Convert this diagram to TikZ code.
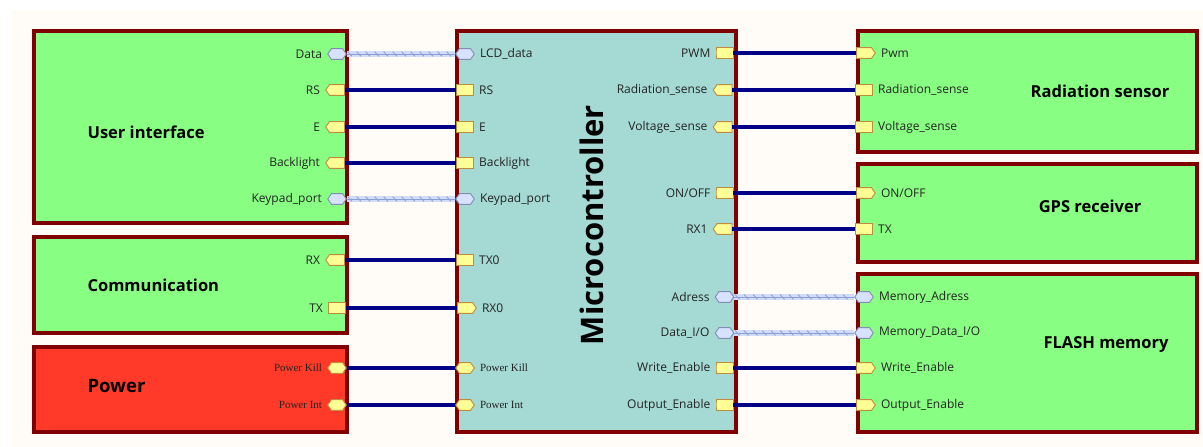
\documentclass[tikz,border=0pt]{standalone}
\usepackage{fontspec}
\setmainfont{Open Sans}
\newfontfamily\pinserif{Liberation Serif}
\usetikzlibrary{positioning,shapes.symbols,decorations.markings}
\definecolor{boxred}{RGB}{128,0,0}
\definecolor{boxgreen}{RGB}{136,255,130}
\definecolor{boxpower}{RGB}{255,58,40}
\definecolor{boxmcu}{RGB}{164,217,212}
\definecolor{paper}{RGB}{255,251,246}
\definecolor{wirenavy}{RGB}{0,0,135}
\definecolor{busband}{RGB}{208,220,248}
\definecolor{bustick}{RGB}{140,158,210}
\definecolor{pinfill}{RGB}{255,255,150}
\definecolor{pinedge}{RGB}{190,140,60}
\definecolor{busfill}{RGB}{214,226,255}
\definecolor{busedge}{RGB}{130,140,180}
\definecolor{labelgrey}{RGB}{35,35,35}

\begin{document}
\begin{tikzpicture}[x=1pt,y=-1pt,node distance=4pt]
\tikzstyle{block}=[draw=boxred,line width=3.5pt,anchor=north west,inner sep=0pt]
\tikzstyle{title}=[font=\bfseries\fontsize{16.5}{19}\selectfont,text=black]
\tikzstyle{pin}=[signal,signal from=nowhere,signal pointer angle=110,draw=pinedge,fill=pinfill,line width=0.9pt,inner xsep=7.5pt,inner ysep=5.4pt]
\tikzstyle{pinwest}=[pin,signal to=west]
\tikzstyle{pineast}=[pin,signal to=east]
\tikzstyle{pinflat}=[pin,signal to=nowhere,inner xsep=8.5pt]
\tikzstyle{pinhex}=[pin,signal to=east and west,inner xsep=5.5pt]
\tikzstyle{bushex}=[pinhex,draw=busedge,fill=busfill]
\tikzstyle{plabel}=[inner sep=1pt,text=labelgrey,font=\fontsize{12}{14}\selectfont]
\tikzstyle{slabel}=[inner sep=1pt,text=labelgrey,font=\pinserif\fontsize{11}{13}\selectfont]
\tikzstyle{wire}=[draw=wirenavy,line width=3.8pt]
\tikzstyle{bus}=[draw=busband,line width=6.5pt,postaction={draw=bustick,line width=0.6pt},postaction={decorate,decoration={markings,mark=between positions 3pt and -3pt step 9pt with {\draw[bustick,line width=0.8pt] (-2.2pt,2.4pt)--(2.2pt,-2.4pt);}}}]

\useasboundingbox (0,0) rectangle (1203,447);
\fill[paper] (11,10) rectangle (1203,447);

\node[block,fill=boxgreen,minimum width=313pt,minimum height=192pt] (ui) at (32,29) {};
\node[block,fill=boxgreen,minimum width=313pt,minimum height=96pt] (comm) at (32,235) {};
\node[block,fill=boxpower,minimum width=313pt,minimum height=85pt] (pwr) at (32,345) {};
\node[block,fill=boxmcu,minimum width=279pt,minimum height=401pt] (mcu) at (455,29) {};
\node[block,fill=boxgreen,minimum width=339pt,minimum height=121pt] (rad) at (856,29) {};
\node[block,fill=boxgreen,minimum width=339pt,minimum height=98pt] (gps) at (856,162) {};
\node[block,fill=boxgreen,minimum width=339pt,minimum height=158pt] (flash) at (856,272) {};

\node[title,anchor=west] (uiname) at (84,132) {User interface};
\node[title,anchor=west] (commname) at (84,285) {Communication};
\node[title,anchor=west,font=\bfseries\fontsize{18.5}{22}\selectfont] (pwrname) at (84,386) {Power};
\node[title,rotate=90,font=\bfseries\fontsize{31}{34}\selectfont] (mcuname) at (592,225) {Microcontroller};
\node[title] (radname) at (1100,91) {Radiation sensor};
\node[title] (gpsname) at (1090,206) {GPS receiver};
\node[title] (flashname) at (1106,345) {FLASH memory};

\node[bushex] (uiData) at (337,54) {};
\node[pinwest] (uiRS) at (337,90) {};
\node[pinwest] (uiE) at (337,127) {};
\node[pinwest] (uiBL) at (337,163) {};
\node[bushex] (uiKey) at (337,199) {};
\node[pinwest] (cmRX) at (337,260) {};
\node[pinflat] (cmTX) at (337,308) {};
\node[pinhex] (pwKill) at (337,368) {};
\node[pinhex] (pwInt) at (337,405) {};
\node[plabel,left=of uiData] (uiDataL) {Data};
\node[plabel,left=of uiRS] (uiRSL) {RS};
\node[plabel,left=of uiE] (uiEL) {E};
\node[plabel,left=of uiBL] (uiBLL) {Backlight};
\node[plabel,left=of uiKey] (uiKeyL) {Keypad\_port};
\node[plabel,left=of cmRX] (cmRXL) {RX};
\node[plabel,left=of cmTX] (cmTXL) {TX};
\node[slabel,left=of pwKill] (pwKillL) {Power Kill};
\node[slabel,left=of pwInt] (pwIntL) {Power Int};

\node[bushex] (mcData) at (465,54) {};
\node[pinflat] (mcRS) at (465,90) {};
\node[pinflat] (mcE) at (465,127) {};
\node[pinflat] (mcBL) at (465,163) {};
\node[bushex] (mcKey) at (465,199) {};
\node[pinflat] (mcTX0) at (465,260) {};
\node[pineast] (mcRX0) at (465,308) {};
\node[pinhex] (mcKill) at (465,368) {};
\node[pinhex] (mcInt) at (465,405) {};
\node[plabel,right=of mcData] (mcDataL) {LCD\_data};
\node[plabel,right=of mcRS] (mcRSL) {RS};
\node[plabel,right=of mcE] (mcEL) {E};
\node[plabel,right=of mcBL] (mcBLL) {Backlight};
\node[plabel,right=of mcKey] (mcKeyL) {Keypad\_port};
\node[plabel,right=of mcTX0] (mcTX0L) {TX0};
\node[plabel,right=of mcRX0] (mcRX0L) {RX0};
\node[slabel,right=of mcKill] (mcKillL) {Power Kill};
\node[slabel,right=of mcInt] (mcIntL) {Power Int};

\node[pinflat] (mcPWM) at (724.5,53) {};
\node[pinwest] (mcRad) at (724.5,90) {};
\node[pinwest] (mcVolt) at (724.5,127) {};
\node[pinflat] (mcOnOff) at (724.5,193) {};
\node[pinwest] (mcRX1) at (724.5,229) {};
\node[bushex] (mcAdr) at (724.5,297) {};
\node[bushex] (mcDIO) at (724.5,333) {};
\node[pinflat] (mcWE) at (724.5,368) {};
\node[pinflat] (mcOE) at (724.5,405) {};
\node[plabel,left=of mcPWM] (mcPWML) {PWM};
\node[plabel,left=of mcRad] (mcRadL) {Radiation\_sense};
\node[plabel,left=of mcVolt] (mcVoltL) {Voltage\_sense};
\node[plabel,left=of mcOnOff] (mcOnOffL) {ON/OFF};
\node[plabel,left=of mcRX1] (mcRX1L) {RX1};
\node[plabel,left=of mcAdr] (mcAdrL) {Adress};
\node[plabel,left=of mcDIO] (mcDIOL) {Data\_I/O};
\node[plabel,left=of mcWE] (mcWEL) {Write\_Enable};
\node[plabel,left=of mcOE] (mcOEL) {Output\_Enable};

\node[pineast] (rsPwm) at (864,53) {};
\node[pinflat] (rsRad) at (864,90) {};
\node[pinflat] (rsVolt) at (864,127) {};
\node[pineast] (gpsOnOff) at (864,193) {};
\node[pinflat] (gpsTX) at (864,229) {};
\node[bushex] (fmAdr) at (864,297) {};
\node[bushex] (fmDIO) at (864,333) {};
\node[pineast] (fmWE) at (864,368) {};
\node[pineast] (fmOE) at (864,405) {};
\node[plabel,right=of rsPwm] (rsPwmL) {Pwm};
\node[plabel,right=of rsRad] (rsRadL) {Radiation\_sense};
\node[plabel,right=of rsVolt] (rsVoltL) {Voltage\_sense};
\node[plabel,right=of gpsOnOff] (gpsOnOffL) {ON/OFF};
\node[plabel,right=of gpsTX] (gpsTXL) {TX};
\node[plabel,right=of fmAdr] (fmAdrL) {Memory\_Adress};
\node[plabel,right=of fmDIO] (fmDIOL) {Memory\_Data\_I/O};
\node[plabel,right=of fmWE] (fmWEL) {Write\_Enable};
\node[plabel,right=of fmOE] (fmOEL) {Output\_Enable};

\draw[bus] (uiData) -- (mcData); \draw[bus] (uiKey) -- (mcKey);
\draw[wire] (uiRS) -- (mcRS); \draw[wire] (uiE) -- (mcE); \draw[wire] (uiBL) -- (mcBL);
\draw[wire] (cmRX) -- (mcTX0); \draw[wire] (cmTX) -- (mcRX0);
\draw[wire] (pwKill) -- (mcKill); \draw[wire] (pwInt) -- (mcInt);
\draw[wire] (mcPWM) -- (rsPwm); \draw[wire] (mcRad) -- (rsRad); \draw[wire] (mcVolt) -- (rsVolt);
\draw[wire] (mcOnOff) -- (gpsOnOff); \draw[wire] (mcRX1) -- (gpsTX);
\draw[bus] (mcAdr) -- (fmAdr); \draw[bus] (mcDIO) -- (fmDIO);
\draw[wire] (mcWE) -- (fmWE); \draw[wire] (mcOE) -- (fmOE);
\end{tikzpicture}
\end{document}
